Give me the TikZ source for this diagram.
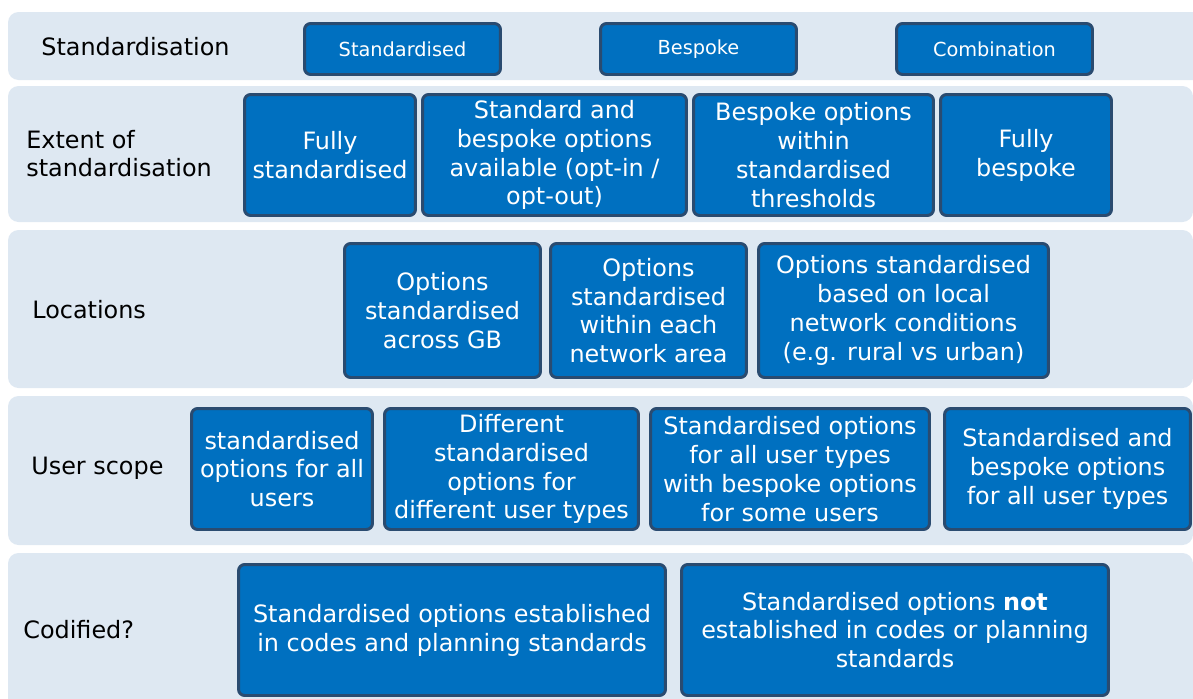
\documentclass[tikz,border=0pt]{standalone}
\usepackage{fontspec}
\setmainfont{DejaVu Sans}
\definecolor{bandBlue}{RGB}{222,232,242}
\definecolor{boxBlue}{RGB}{0,112,192}
\definecolor{boxEdge}{RGB}{42,75,112}

\begin{document}
\begin{tikzpicture}[x=0.02cm,y=-0.02cm,
  band/.style={fill=bandBlue, rounded corners=6pt},
  optbox/.style={draw=boxEdge, line width=1.7pt, fill=boxBlue, rounded corners=3.5pt,
    text=white, align=center, inner sep=0pt, font=\fontsize{13.6}{16.4}\selectfont},
  smallbox/.style={optbox, font=\fontsize{11}{13}\selectfont},
  rowlabel/.style={anchor=west, align=left, inner sep=0pt, font=\fontsize{13.6}{16.4}\selectfont}]
  \useasboundingbox (0,0) rectangle (1193,698);

  \fill[band] (8,12) rectangle (1205,80);
  \fill[band] (8,86) rectangle (1193,222);
  \fill[band] (8,230) rectangle (1193,388);
  \fill[band] (8,396) rectangle (1193,545);
  \fill[band] (8,553) rectangle (1193,720);

  \node[rowlabel] (lstd) at (41,47) {Standardisation};
  \node[rowlabel] (lext) at (26,153.5) {Extent of\\standardisation};
  \node[rowlabel] (lloc) at (32,310) {Locations};
  \node[rowlabel] (luser) at (31,468) {User scope};
  \node[rowlabel] (lcod) at (23,630) {Codified?};

  \node[smallbox, minimum width=3.92cm, minimum height=1.02cm] (std) at (402.5,49) {Standardised};
  \node[smallbox, minimum width=3.92cm, minimum height=1.02cm] (besp) at (698.5,49) {Bespoke};
  \node[smallbox, minimum width=3.92cm, minimum height=1.02cm] (comb) at (994.5,49) {Combination};

  \node[optbox, minimum width=3.42cm, minimum height=2.42cm] (fullstd) at (330,155) {Fully\\standardised};
  \node[optbox, minimum width=5.28cm, minimum height=2.42cm] (optin) at (554.5,155) {Standard and\\bespoke options\\available (opt-in /\\opt-out)};
  \node[optbox, minimum width=4.8cm, minimum height=2.42cm] (thresh) at (813.5,155) {Bespoke options\\within\\standardised\\thresholds};
  \node[optbox, minimum width=3.42cm, minimum height=2.42cm] (fullbesp) at (1026,155) {Fully\\bespoke};

  \node[optbox, minimum width=3.92cm, minimum height=2.68cm] (gb) at (442.5,310.5) {Options\\standardised\\across GB};
  \node[optbox, minimum width=3.92cm, minimum height=2.68cm] (area) at (648.5,310.5) {Options\\standardised\\within each\\network area};
  \node[optbox, minimum width=5.8cm, minimum height=2.68cm] (local) at (903.5,310.5) {Options standardised\\based on local\\network conditions\\(e.g. rural vs urban)};

  \node[optbox, minimum width=3.62cm, minimum height=2.42cm] (allusers) at (282,469) {standardised\\options for all\\users};
  \node[optbox, minimum width=5.08cm, minimum height=2.42cm] (types) at (511.5,469) {Different\\standardised\\options for\\different user types};
  \node[optbox, minimum width=5.58cm, minimum height=2.42cm] (some) at (790,469) {Standardised options\\for all user types\\with bespoke options\\for some users};
  \node[optbox, minimum width=4.92cm, minimum height=2.42cm] (both) at (1067.5,469) {Standardised and\\bespoke options\\for all user types};

  \node[optbox, minimum width=8.54cm, minimum height=2.62cm] (codes) at (452,630) {Standardised options established\\in codes and planning standards};
  \node[optbox, minimum width=8.54cm, minimum height=2.62cm] (nocodes) at (895,630) {Standardised options \textbf{not}\\established in codes or planning\\standards};
\end{tikzpicture}
\end{document}
